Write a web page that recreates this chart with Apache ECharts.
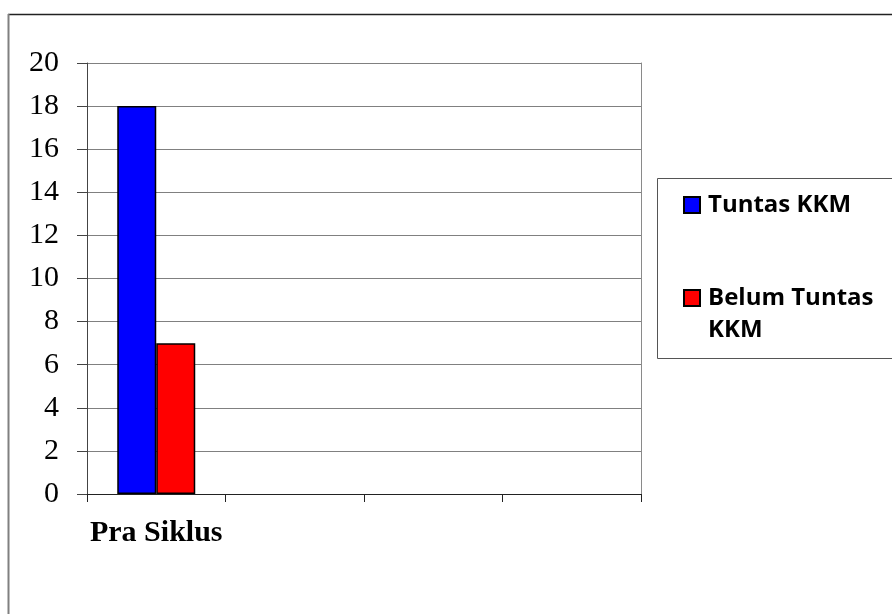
<!DOCTYPE html>
<html>
<head>
<meta charset="utf-8">
<script src="https://cdn.jsdelivr.net/npm/echarts@6/dist/echarts.min.js"></script>
<style>
  html, body { margin: 0; padding: 0; background: #fff; }
  #chart { width: 892px; height: 614px; }
</style>
</head>
<body>
<div id="chart"></div>
<script>
// Category labels along the x axis (only the first group has data)
const categories = ['Pra Siklus', '', '', ''];
// Number of students per group
const tuntasKKM = [18, null, null, null];
const belumTuntasKKM = [7, null, null, null];
const seriesNames = ['Tuntas KKM', 'Belum Tuntas KKM'];
// Value axis range and step
const yMin = 0, yMax = 20, yStep = 2;

const chart = echarts.init(document.getElementById('chart'), null, { renderer: 'canvas' });

const legendText = {
  fontFamily: 'Open Sans',
  fontWeight: 'bold',
  fontSize: 24,
  color: '#000',
  lineHeight: 32,
  padding: [0, 0, 0, 3]
};

chart.setOption({
  animation: false,
  backgroundColor: '#fff',
  grid: { left: 87, right: 251, top: 63, bottom: 120, containLabel: false },
  xAxis: {
    type: 'category',
    data: categories,
    boundaryGap: true,
    axisLine: { show: true, lineStyle: { color: '#222', width: 1 } },
    axisTick: { show: true, length: 8, inside: false, lineStyle: { color: '#222' } },
    axisLabel: {
      interval: 0,
      margin: 24,
      fontFamily: 'Liberation Serif',
      fontWeight: 'bold',
      fontSize: 30,
      color: '#000'
    },
    splitLine: { show: false }
  },
  yAxis: [{
    type: 'value',
    min: yMin,
    max: yMax,
    interval: yStep,
    axisLine: { show: true, lineStyle: { color: '#444', width: 1 } },
    axisTick: { show: true, length: 10, lineStyle: { color: '#444' } },
    axisLabel: {
      margin: 28,
      fontFamily: 'Liberation Serif',
      fontSize: 30,
      color: '#000'
    },
    splitLine: { show: true, lineStyle: { color: '#808080', width: 1 } }
  }, {
    type: 'value',
    position: 'right',
    min: yMin,
    max: yMax,
    interval: yStep,
    axisLine: { show: true, lineStyle: { color: '#8a8a8a', width: 1 } },
    axisTick: { show: false },
    axisLabel: { show: false },
    splitLine: { show: false }
  }],
  legend: [{
    data: [seriesNames[0]],
    orient: 'vertical',
    left: 683,
    top: 189,
    padding: 0,
    itemWidth: 16,
    itemHeight: 16,
    icon: 'rect',
    textStyle: legendText
  }, {
    data: [seriesNames[1]],
    orient: 'vertical',
    left: 683,
    top: 250,
    padding: 0,
    itemWidth: 16,
    itemHeight: 16,
    icon: 'rect',
    // wrap the last word onto a second line; the leading empty line keeps
    // the first line level with the swatch
    formatter: function (name) { return '\n' + name.replace(/ (\S+)$/, '\n$1'); },
    textStyle: legendText
  }],
  graphic: [
    // page frame
    { type: 'line', shape: { x1: 8, y1: 14.5, x2: 892, y2: 14.5 }, style: { stroke: '#222', lineWidth: 1.5 }, silent: true },
    { type: 'line', shape: { x1: 8.5, y1: 14, x2: 8.5, y2: 614 }, style: { stroke: '#808080', lineWidth: 2 }, silent: true },
    // legend box
    { type: 'rect', shape: { x: 657.5, y: 178.5, width: 300, height: 180 }, style: { fill: 'none', stroke: '#555', lineWidth: 1 }, silent: true, z: -1 }
  ],
  series: [{
    name: seriesNames[0],
    type: 'bar',
    data: tuntasKKM,
    barWidth: 39,
    barGap: '0%',
    itemStyle: { color: '#0000ff', borderColor: '#000', borderWidth: 1.5 }
  }, {
    name: seriesNames[1],
    type: 'bar',
    data: belumTuntasKKM,
    barWidth: 39,
    barGap: '0%',
    itemStyle: { color: '#ff0000', borderColor: '#000', borderWidth: 1.5 }
  }]
});
</script>
</body>
</html>
